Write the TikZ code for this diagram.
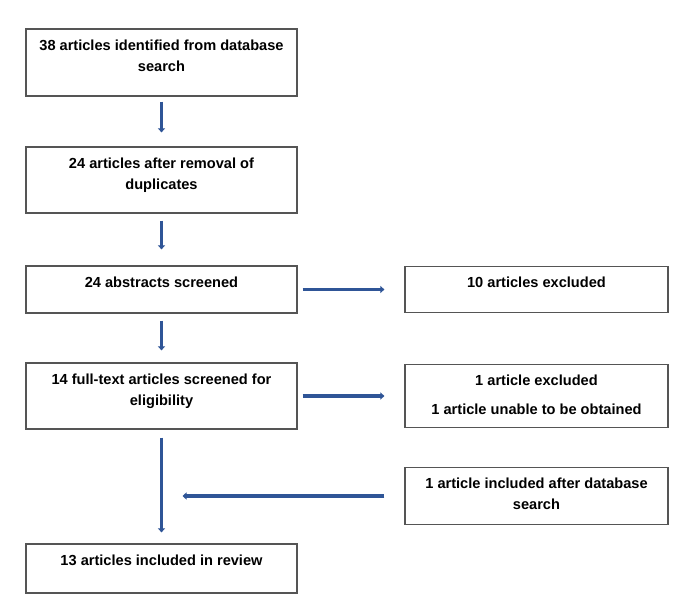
\documentclass[tikz,border=0pt]{standalone}
\usepackage{fontspec}
\setmainfont{Liberation Sans}
\usetikzlibrary{positioning,arrows.meta}
\definecolor{flowblue}{RGB}{47,85,151}
\definecolor{boxgray}{RGB}{85,85,85}
% box text: width, height, lines (set from the top)
\newcommand{\boxlines}[3]{\parbox[c][#2][t]{#1}{\centering\rule{0pt}{21pt}#3}}

\begin{document}
\begin{tikzpicture}[x=1pt,y=-1pt,on grid]
    \tikzset{flowbox/.style={draw=boxgray,line width=1.2pt,inner sep=0pt,font=\bfseries\fontsize{14.6}{21}\selectfont},
      flowarrow/.style={draw=flowblue,line width=3.5pt,-{Triangle[width=7pt,length=4pt]}}}
    \useasboundingbox (0,0) rectangle (694,614);

    \node[flowbox] (ident) at (161.5,62.5) {\boxlines{271pt}{67pt}{38 articles identified from database\\search}};
    \node[flowbox] (dedup) [below = 117.5pt of ident] {\boxlines{271pt}{66pt}{24 articles after removal of\\duplicates}};
    \node[flowbox] (screen) [below = 109.5pt of dedup] {\boxlines{271pt}{47pt}{24 abstracts screened}};
    \node[flowbox] (full) [below = 106.5pt of screen] {\boxlines{271pt}{66pt}{14 full-text articles screened for\\eligibility}};
    \node[flowbox] (incl) [below = 172.5pt of full] {\boxlines{271pt}{49pt}{13 articles included in review}};

    \node[flowbox] (excl) [right = 375pt of screen] {\boxlines{263pt}{46pt}{10 articles excluded}};
    \node[flowbox] (excltwo) [right = 375pt of full] {\boxlines{263pt}{63pt}{1 article excluded\\[8pt]1 article unable to be obtained}};
    \node[flowbox] (added) [below = 100pt of excltwo] {\boxlines{263pt}{57pt}{1 article included after database\\search}};

    \draw[flowarrow,shorten <=5pt,shorten >=14pt] (ident) -- (dedup);
    \draw[flowarrow,shorten <=7pt,shorten >=16pt] (dedup) -- (screen);
    \draw[flowarrow,shorten <=7pt,shorten >=12pt] (screen) -- (full);
    \draw[flowarrow,shorten <=8pt,shorten >=11pt] (full) -- (incl);
    \draw[flowarrow,shorten <=5pt,shorten >=20pt] (screen) -- (excl);
    \draw[flowarrow,shorten <=5pt,shorten >=20pt] (full) -- (excltwo);
    \draw[flowarrow,shorten <=20pt,shorten >=21pt] (added.west) -- (added.west -| full.south);
\end{tikzpicture}
\end{document}
